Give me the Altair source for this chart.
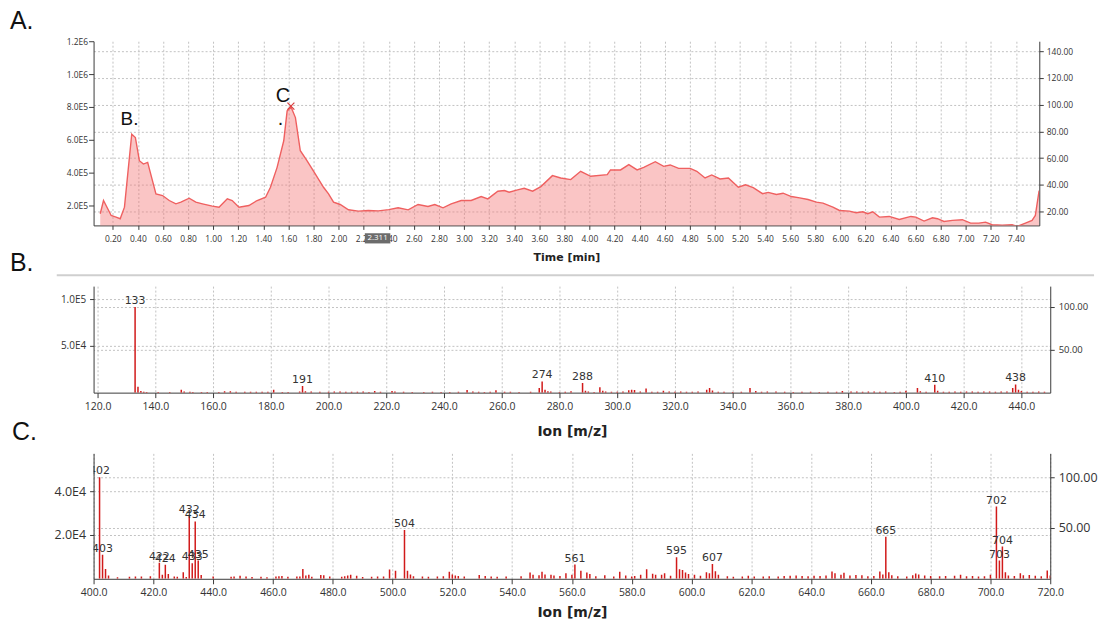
import altair as alt
import pandas as pd

# ---------------- Panel A : chromatogram (TIC) ----------------
time_min = [
    0.100, 0.126, 0.187, 0.226, 0.259, 0.293, 0.351, 0.380, 0.412, 0.444,
    0.478, 0.544, 0.597, 0.650, 0.703, 0.743, 0.809, 0.862, 0.915, 0.994,
    1.047, 1.113, 1.152, 1.206, 1.285, 1.351, 1.418, 1.457, 1.510, 1.563,
    1.590, 1.621, 1.656, 1.695, 1.748, 1.814, 1.880, 1.920, 1.960, 2.013,
    2.079, 2.158, 2.237, 2.317, 2.400, 2.475, 2.555, 2.634, 2.713, 2.767,
    2.833, 2.898, 2.978, 3.057, 3.137, 3.190, 3.270, 3.322, 3.360, 3.427,
    3.480, 3.547, 3.613, 3.705, 3.771, 3.851, 3.930, 4.010, 4.142, 4.168,
    4.248, 4.314, 4.380, 4.433, 4.525, 4.592, 4.644, 4.711, 4.803, 4.856,
    4.922, 4.975, 5.041, 5.108, 5.187, 5.245, 5.306, 5.380, 5.425, 5.491,
    5.544, 5.610, 5.676, 5.743, 5.809, 5.862, 5.941, 5.994, 6.073, 6.126,
    6.179, 6.219, 6.259, 6.312, 6.390, 6.470, 6.563, 6.602, 6.668, 6.735,
    6.775, 6.827, 6.894, 6.973, 7.039, 7.105, 7.158, 7.211, 7.291, 7.370,
    7.410, 7.476, 7.529, 7.555, 7.585,
]
tic_counts = [
    149700, 230300, 139400, 129100, 119400, 189900, 634500, 614000, 472700, 452400,
    462400, 270900, 260600, 230300, 210100, 220200, 244400, 220200, 210100, 195900,
    189900, 240400, 230300, 189900, 200000, 230300, 250500, 311000, 432100, 593900,
    775800, 800000, 735200, 533300, 472700, 392100, 311000, 270900, 220200, 206000,
    173700, 165600, 169700, 167000, 175000, 186000, 173700, 206000, 193900, 206000,
    185900, 210100, 230300, 230300, 254500, 240400, 286900, 290900, 280800, 295000,
    305100, 286900, 315200, 381800, 367600, 357600, 408100, 377800, 387900, 416300,
    416300, 448500, 416300, 432100, 466700, 438200, 446700, 426100, 426100, 408100,
    367600, 386000, 361600, 367600, 311000, 326000, 309000, 272000, 280000, 266700,
    274700, 254500, 246500, 236400, 220200, 214100, 189900, 169700, 165600, 155800,
    161800, 149700, 161800, 129100, 133300, 115200, 133300, 129100, 105000, 125300,
    119400, 103000, 109100, 113300, 92700, 92700, 98800, 83000, 80600, 83000,
    72700, 92700, 109100, 139400, 290900,
]
a_ann_text = ["B.", "C", "."]
a_ann_t = [0.262, 1.499, 1.515]
a_ann_v = [690900, 830000, 690900]
a_ann_size = [19, 20, 20]
a_peak_t = [1.62]
a_peak_v = [805000]
a_cursor_t = [2.311]
a_cursor_label = ["2.311"]
a_xticks = [round(0.2 * i, 2) for i in range(1, 38)]
a_lticks = [200000, 400000, 600000, 800000, 1000000, 1200000]
a_rticks = [20, 40, 60, 80, 100, 120, 140]

# ---------------- Panel B : mass spectrum ----------------
b_mz = [
    133, 134, 135, 136, 137, 141, 145, 149, 150, 152,
    153, 156, 158, 162, 164, 166, 168, 171, 173, 175,
    177, 179, 181, 184, 186, 190, 191, 192, 194, 197,
    200, 202, 204, 206, 208, 210, 212, 214, 216, 218,
    222, 223, 226, 229, 233, 236, 239, 242, 245, 248,
    250, 252, 254, 256, 258, 261, 263, 266, 270, 273,
    274, 275, 276, 277, 280, 282, 284, 288, 289, 290,
    292, 294, 295, 296, 298, 300, 302, 304, 305, 306,
    308, 310, 312, 314, 316, 318, 320, 322, 324, 326,
    328, 331, 332, 333, 335, 337, 340, 343, 346, 348,
    350, 352, 355, 358, 361, 364, 367, 370, 373, 376,
    378, 381, 383, 385, 387, 389, 391, 393, 396, 398,
    400, 404, 405, 407, 410, 411, 413, 415, 417, 419,
    421, 423, 425, 427, 429, 431, 433, 435, 437, 438,
    439, 440, 442, 444, 446, 448,
]
b_int = [
    91500, 6300, 1800, 900, 700, 600, 800, 3200, 1300, 900,
    700, 600, 700, 800, 1500, 1400, 900, 900, 1000, 900,
    1000, 900, 3200, 700, 800, 1100, 7100, 1500, 1300, 900,
    1000, 1200, 1300, 900, 1000, 900, 1100, 800, 1800, 900,
    1800, 1100, 1000, 700, 800, 900, 700, 800, 1000, 2900,
    1200, 900, 800, 1000, 2600, 900, 1000, 700, 900, 5000,
    12000, 3200, 1500, 1300, 800, 900, 1600, 10300, 2100, 1200,
    800, 5700, 2100, 1300, 1000, 900, 1100, 2500, 3200, 2800,
    1200, 4300, 1000, 900, 2100, 1100, 900, 1200, 900, 1000,
    1100, 3200, 5000, 2300, 1000, 900, 800, 1000, 5000, 1800,
    900, 1200, 1100, 900, 800, 1000, 900, 800, 900, 1000,
    1800, 1200, 1100, 1000, 1100, 1200, 1000, 1100, 800, 900,
    2000, 5000, 1600, 1000, 8500, 2100, 900, 1000, 1100, 1000,
    1200, 1100, 1000, 1200, 1100, 1000, 1200, 1100, 5000, 8800,
    3200, 1700, 900, 1000, 1100, 1000,
]
b_label_mz = [133, 191, 274, 288, 410, 438]
b_xticks = [120 + 20 * i for i in range(17)]
b_lticks = [50000, 100000]
b_rticks = [50, 100]

# ---------------- Panel C : mass spectrum ----------------
c_mz = [
    402, 403, 404, 405, 408, 412, 414, 416, 419, 422,
    423, 424, 425, 427, 428, 430, 431, 432, 433, 434,
    435, 436, 440, 446, 447, 449, 451, 453, 456, 458,
    461, 462, 463, 465, 468, 469, 470, 471, 472, 473,
    476, 477, 479, 483, 484, 485, 486, 488, 490, 493,
    495, 497, 499, 501, 504, 505, 506, 507, 510, 512,
    515, 517, 519, 520, 521, 522, 524, 529, 531, 533,
    535, 538, 543, 546, 547, 549, 550, 551, 553, 554,
    556, 558, 560, 561, 563, 565, 566, 568, 571, 574,
    576, 578, 580, 581, 583, 585, 587, 588, 590, 591,
    593, 595, 596, 597, 598, 599, 601, 603, 605, 606,
    607, 608, 609, 612, 614, 617, 619, 621, 624, 626,
    629, 631, 633, 635, 637, 639, 641, 643, 645, 647,
    648, 650, 651, 653, 655, 657, 659, 661, 663, 664,
    665, 666, 667, 669, 672, 674, 675, 676, 678, 680,
    683, 685, 688, 690, 692, 694, 696, 698, 700, 702,
    703, 704, 705, 706, 708, 710, 711, 713, 715, 717,
    719, 720,
]
c_int = [
    46400, 11000, 4500, 1500, 700, 900, 1000, 1100, 1200, 7300,
    1800, 6400, 2200, 1000, 900, 3000, 800, 28800, 7100, 26200,
    8300, 1700, 1000, 900, 1000, 1400, 1000, 800, 900, 700,
    1000, 1200, 1300, 900, 1100, 1000, 4500, 1500, 1800, 900,
    1700, 1600, 1000, 900, 1200, 1500, 1800, 1400, 800, 900,
    1000, 1100, 4200, 3700, 22300, 3700, 2000, 1200, 1000, 900,
    1100, 1200, 3200, 2000, 1500, 1300, 1100, 1700, 1300, 1100,
    900, 1000, 1200, 2900, 1800, 1600, 3200, 2000, 1800, 1500,
    1300, 2500, 1800, 6500, 3700, 2900, 2200, 1200, 1600, 1100,
    3200, 1500, 1000, 1300, 1800, 4400, 2300, 1800, 1900, 2500,
    1400, 9800, 4400, 4000, 2900, 2200, 1800, 1400, 3000, 2500,
    6800, 3500, 1800, 1200, 900, 1100, 1400, 1100, 1000, 1200,
    1100, 1300, 1400, 1500, 1300, 1200, 1400, 1300, 1500, 3300,
    2500, 1800, 2800, 1500, 1700, 1600, 1200, 1300, 3300, 2000,
    19200, 3000, 1600, 1200, 1100, 1600, 2400, 2000, 1500, 1300,
    1200, 1300, 1400, 1800, 1200, 1300, 1100, 1200, 1800, 33000,
    8300, 14700, 3000, 1500, 1300, 2500, 1600, 1700, 1400, 1200,
    3800, 1500,
]
c_label_mz = [402, 403, 422, 424, 432, 433, 434, 435, 504, 561, 595, 607, 665, 702, 703, 704]
c_xticks = [400 + 20 * i for i in range(17)]
c_lticks = [20000, 40000]
c_rticks = [50, 100]

# ---------------- styling ----------------
RED = "#d11a1a"
FILL = "#f47474"
LINE = "#ef6060"
GRID = "#c2c2c2"
AX = "#3a3a3a"
TXT = "#333333"
SCI = "replace(upper(format(datum.value, '.1e')), '+', '')"


def axis(**kw):
    base = dict(domainColor=AX, tickColor=AX, labelColor=TXT, gridColor=GRID,
                gridDash=[2, 2], gridWidth=1, labelFlush=False, labelOverlap=False,
                labelSeparation=0, labelBound=False,
                titleColor="#222222", titleFont="DejaVu Sans", titleFontWeight="bold",
                labelFont="Open Sans")
    base.update(kw)
    return alt.Axis(**base)


def panel_label(text, x, y):
    return alt.Chart(pd.DataFrame({"s": [text]})).mark_text(
        align="left", baseline="top", fontSize=25, font="Liberation Sans", color="#111111"
    ).encode(x=alt.value(x), y=alt.value(y), text="s:N")


def right_axis(dom, ticks, fs, tick, pad):
    return alt.Chart(pd.DataFrame({"r": dom})).mark_rule(opacity=0).encode(
        y=alt.Y("r:Q", scale=alt.Scale(domain=dom, nice=False, zero=False),
                axis=axis(orient="right", values=ticks, format=".2f", grid=True, title=None,
                          labelFontSize=fs, tickSize=tick, labelPadding=pad))
    )


# ---------- A ----------
WA, HA = 950, 185
a_df = pd.DataFrame({"t": time_min, "v": tic_counts})


def xA():
    return alt.X("t:Q", scale=alt.Scale(domain=[0.0468, 7.5865], nice=False, zero=False),
                 axis=axis(values=a_xticks, format=".2f", title="Time [min]", grid=True,
                           labelFontSize=8.5, tickSize=4, labelPadding=5,
                           titleFontSize=11, titlePadding=9))


def yA():
    return alt.Y("v:Q", scale=alt.Scale(domain=[78800, 1200000], nice=False, zero=False),
                 axis=axis(values=a_lticks, labelExpr=SCI, grid=False, title=None,
                           labelFontSize=8.5, tickSize=5, labelPadding=1))


area = alt.Chart(a_df).mark_area(
    color=FILL, opacity=0.42, clip=True,
    line=alt.OverlayMarkDef(color=LINE, strokeWidth=1.4, opacity=1)
).encode(x=xA(), y=yA())

ann_df = pd.DataFrame({"t": a_ann_t, "v": a_ann_v, "s": a_ann_text, "fs": a_ann_size})
ann = alt.Chart(ann_df).mark_text(align="left", baseline="alphabetic", font="Liberation Sans",
                                  color="#111111").encode(
    x=xA(), y=yA(), text="s:N", size=alt.Size("fs:Q", scale=None, legend=None))
cross = alt.Chart(pd.DataFrame({"t": a_peak_t, "v": a_peak_v})).mark_point(
    shape="M-1,-1L1,1M-1,1L1,-1", size=49, filled=False, color="#d94040", strokeWidth=1.2, opacity=1
).encode(x=xA(), y=yA())
cur_df = pd.DataFrame({"t": a_cursor_t, "s": a_cursor_label})
cur_box = alt.Chart(cur_df).mark_point(
    shape="M-1.25,-0.5L1.25,-0.5L1.25,0.5L-1.25,0.5Z", size=420, filled=True,
    color="#6c6c6c", opacity=1
).encode(x=xA(), y=alt.value(HA + 13))
cur_txt = alt.Chart(cur_df).mark_text(color="white", fontSize=8, font="Open Sans",
                                      baseline="middle").encode(
    x=xA(), y=alt.value(HA + 13), text="s:N")

panelA = alt.layer(
    alt.layer(area, ann, cross, cur_box, cur_txt, panel_label("A.", -84, -32)),
    right_axis([9.57, 147.45], a_rticks, 8.5, 4, 3),
).resolve_scale(y="independent").properties(width=WA, height=HA)


# ---------- spectra ----------
def spectrum(mz, inten, label_mz, xdom, xticks, ydom, lticks, lfs, rdom, rticks, rfs,
             w, h, title_pad, letter, letter_x, letter_y, extra=None):
    df = pd.DataFrame({"mz": mz, "inten": inten})
    lab = df[df["mz"].isin(label_mz)].copy()
    lab["lab"] = lab["mz"].astype(str)

    def x():
        return alt.X("mz:Q", scale=alt.Scale(domain=xdom, nice=False, zero=False),
                     axis=axis(values=xticks, format=".1f", title="Ion [m/z]", grid=True,
                               labelFontSize=10.5, tickSize=5, labelPadding=4,
                               titleFontSize=14, titlePadding=title_pad))

    def y():
        return alt.Y("inten:Q", scale=alt.Scale(domain=ydom, nice=False),
                     axis=axis(values=lticks, labelExpr=SCI, grid=True, title=None,
                               labelFontSize=lfs, tickSize=4, labelPadding=4))

    bars = alt.Chart(df).mark_rule(color=RED, strokeWidth=1.5, clip=True).encode(
        x=x(), y=y(), y2=alt.datum(0))
    txt = alt.Chart(lab).mark_text(baseline="bottom", dy=-1, font="DejaVu Sans", fontSize=11,
                                   color=TXT, clip=True).encode(
        x=x(), y=y(), text="lab:N")
    layers = [bars, txt, panel_label(letter, letter_x, letter_y)]
    if extra is not None:
        layers.append(extra)
    return alt.layer(
        alt.layer(*layers),
        right_axis(rdom, rticks, rfs, 4, 4),
    ).resolve_scale(y="independent").properties(width=w, height=h)


separator = alt.Chart(pd.DataFrame({"a": [0]})).mark_rule(color="#cfcfcf", strokeWidth=2).encode(
    x=alt.value(-37), x2=alt.value(1005), y=alt.value(-11))

panelB = spectrum(b_mz, b_int, b_label_mz, [118.62, 450], b_xticks, [0, 113830], b_lticks, 10,
                  [0, 124.4], b_rticks, 9.5, 961, 107, 13, "B.", -84, -35, extra=separator)
panelC = spectrum(c_mz, c_int, c_label_mz, [400, 720], c_xticks, [0, 57270], c_lticks, 12.5,
                  [0, 123.5], c_rticks, 12.5, 961, 126, 7, "C.", -82, -33)

chart = alt.vconcat(panelA, panelB, panelC, spacing=61, bounds="flush").properties(
    padding={"left": 10, "top": 8, "right": 5, "bottom": 5}
).configure_view(stroke=None)

chart.save("out.html", embed_options={"renderer": "svg", "actions": False})
